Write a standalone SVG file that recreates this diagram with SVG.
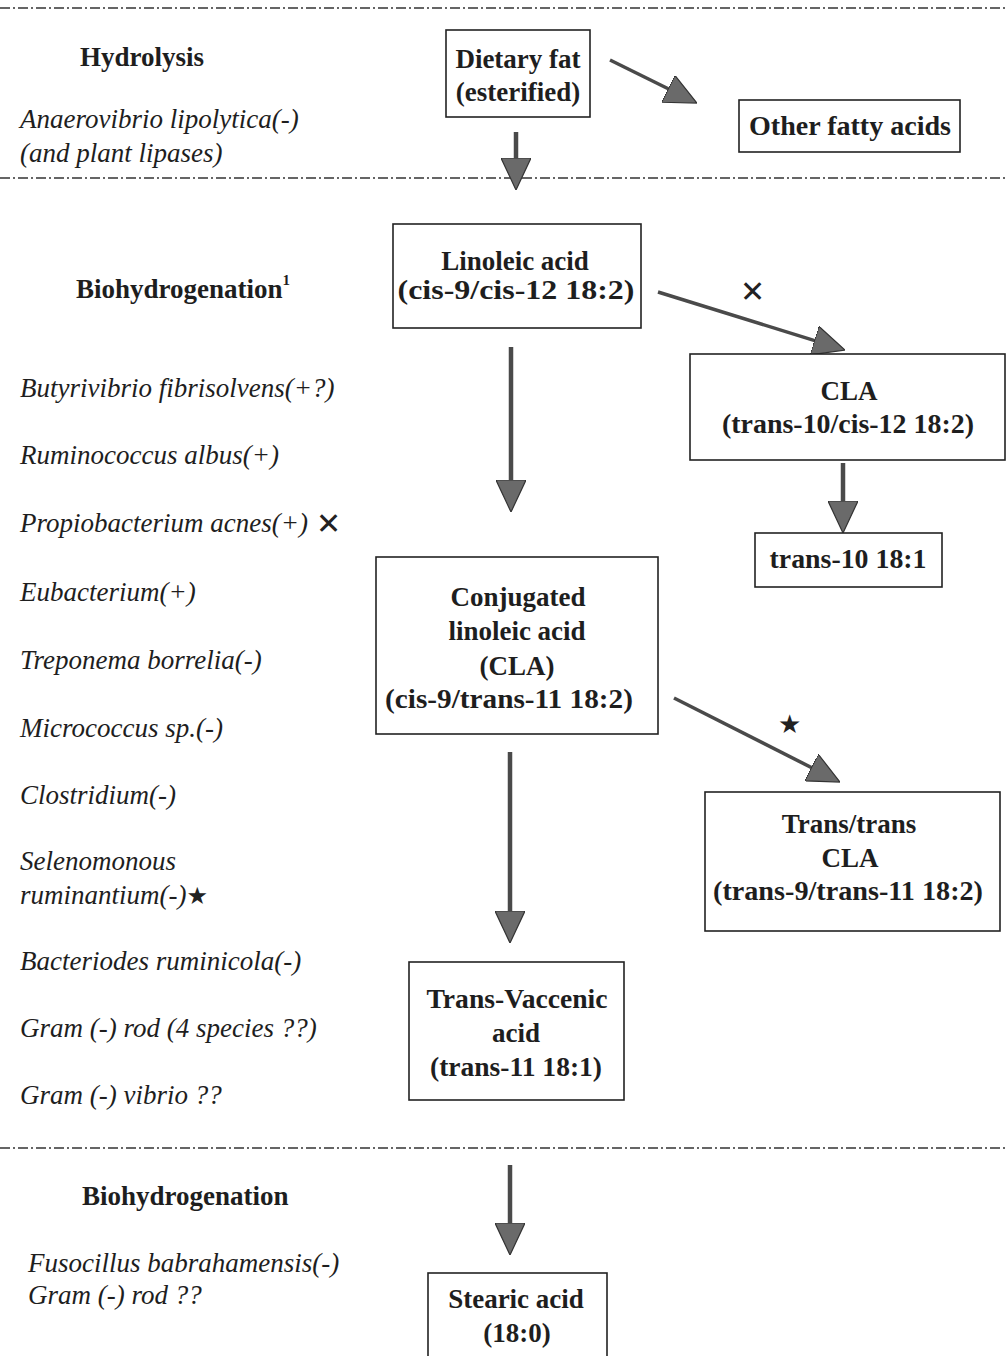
<svg xmlns="http://www.w3.org/2000/svg" width="1006" height="1356" viewBox="0 0 1006 1356">
<style>
.bg{fill:#fff}
.sep{stroke:#333;stroke-width:1.4;stroke-dasharray:10 3 2 3;fill:none}
.box{fill:#fff;stroke:#222;stroke-width:1.6}
.bt{font-family:"Liberation Serif","Times New Roman",serif;font-weight:bold;font-size:27px;fill:#1e1e1e;text-anchor:middle}
.hd{font-family:"Liberation Serif","Times New Roman",serif;font-weight:bold;font-size:27px;fill:#1e1e1e}
.it{font-family:"Liberation Serif","Times New Roman",serif;font-style:italic;font-size:27px;fill:#1e1e1e}
.sym{font-family:"DejaVu Sans",sans-serif;fill:#222}
.arr{stroke:#4a4a4a;stroke-width:4.5;fill:none;marker-end:url(#ah)}
.arrd{stroke:#4a4a4a;stroke-width:3.5;fill:none;marker-end:url(#ah)}
</style>
<defs>
<marker id="ah" viewBox="0 0 32 30" refX="18" refY="15" markerWidth="32" markerHeight="30" markerUnits="userSpaceOnUse" orient="auto">
<path d="M0,0 L32,15 L0,30 z" fill="#6a6a6a" stroke="#333" stroke-width="1.2"/>
</marker>
</defs>
<rect class="bg" x="0" y="0" width="1006" height="1356"/>
<g id="separators">
<line class="sep" x1="0" y1="8" x2="1006" y2="8"/>
<line class="sep" x1="0" y1="178" x2="1006" y2="178"/>
<line class="sep" x1="0" y1="1148" x2="1006" y2="1148"/>
</g>
<g id="labels">
<text class="hd" x="80" y="66">Hydrolysis</text>
<text class="it" x="20" y="128">Anaerovibrio lipolytica(-)</text>
<text class="it" x="20" y="162">(and plant lipases)</text>
<text class="hd" x="76" y="298">Biohydrogenation<tspan font-size="15" dy="-13">1</tspan></text>
<text class="it" x="20" y="397">Butyrivibrio fibrisolvens(+?)</text>
<text class="it" x="20" y="464">Ruminococcus albus(+)</text>
<text class="it" x="20" y="532">Propiobacterium acnes(+)</text>
<text class="sym" x="316" y="534" font-size="30">✕</text>
<text class="it" x="20" y="601">Eubacterium(+)</text>
<text class="it" x="20" y="669">Treponema borrelia(-)</text>
<text class="it" x="20" y="737">Micrococcus sp.(-)</text>
<text class="it" x="20" y="804">Clostridium(-)</text>
<text class="it" x="20" y="870">Selenomonous</text>
<text class="it" x="20" y="904">ruminantium(-)<tspan class="sym" font-size="24" font-style="normal">★</tspan></text>
<text class="it" x="20" y="970">Bacteriodes ruminicola(-)</text>
<text class="it" x="20" y="1037">Gram (-) rod (4 species ??)</text>
<text class="it" x="20" y="1104">Gram (-) vibrio ??</text>
<text class="hd" x="82" y="1205">Biohydrogenation</text>
<text class="it" x="28" y="1272">Fusocillus babrahamensis(-)</text>
<text class="it" x="28" y="1304">Gram (-) rod ??</text>
<text class="sym" x="740" y="302" font-size="30">✕</text>
<text class="sym" x="778" y="733" font-size="26">★</text>
</g>
<g id="connectors">
<line class="arrd" x1="610" y1="60" x2="684.4" y2="96.8"/>
<line class="arr" x1="516" y1="132" x2="516" y2="176"/>
<line class="arrd" x1="658" y1="292" x2="831.6" y2="345.9"/>
<line class="arr" x1="511" y1="347" x2="511" y2="498"/>
<line class="arr" x1="843" y1="463" x2="843" y2="519"/>
<line class="arrd" x1="674" y1="698" x2="827.5" y2="775.7"/>
<line class="arr" x1="510" y1="752" x2="510" y2="929"/>
<line class="arr" x1="510" y1="1165" x2="510" y2="1241"/>
</g>
<g id="n-dietary">
<rect class="box" x="446" y="30" width="144" height="87"/>
<text class="bt" x="518" y="68">Dietary fat</text>
<text class="bt" x="518" y="101">(esterified)</text>
</g>
<g id="n-other">
<rect class="box" x="739" y="100" width="221" height="52"/>
<text class="bt" x="850" y="135" textLength="202" lengthAdjust="spacingAndGlyphs">Other fatty acids</text>
</g>
<g id="n-linoleic">
<rect class="box" x="393" y="224" width="248" height="104"/>
<text class="bt" x="515" y="270">Linoleic acid</text>
<text class="bt" x="516" y="299" textLength="237" lengthAdjust="spacingAndGlyphs">(cis-9/cis-12 18:2)</text>
</g>
<g id="n-cla1012">
<rect class="box" x="690" y="354" width="315" height="106"/>
<text class="bt" x="849" y="400">CLA</text>
<text class="bt" x="848" y="433" textLength="252" lengthAdjust="spacingAndGlyphs">(trans-10/cis-12 18:2)</text>
</g>
<g id="n-trans10">
<rect class="box" x="755" y="533" width="187" height="54"/>
<text class="bt" x="848" y="568" textLength="157" lengthAdjust="spacingAndGlyphs">trans-10 18:1</text>
</g>
<g id="n-cla911">
<rect class="box" x="376" y="557" width="282" height="177"/>
<text class="bt" x="518" y="606">Conjugated</text>
<text class="bt" x="517" y="640">linoleic acid</text>
<text class="bt" x="517" y="675">(CLA)</text>
<text class="bt" x="509" y="708" textLength="248" lengthAdjust="spacingAndGlyphs">(cis-9/trans-11 18:2)</text>
</g>
<g id="n-transtrans">
<rect class="box" x="705" y="792" width="295" height="139"/>
<text class="bt" x="849" y="833">Trans/trans</text>
<text class="bt" x="850" y="867">CLA</text>
<text class="bt" x="848" y="900" textLength="270" lengthAdjust="spacingAndGlyphs">(trans-9/trans-11 18:2)</text>
</g>
<g id="n-vaccenic">
<rect class="box" x="409" y="962" width="215" height="138"/>
<text class="bt" x="517" y="1008" textLength="181" lengthAdjust="spacingAndGlyphs">Trans-Vaccenic</text>
<text class="bt" x="516" y="1042">acid</text>
<text class="bt" x="516" y="1076" textLength="172" lengthAdjust="spacingAndGlyphs">(trans-11 18:1)</text>
</g>
<g id="n-stearic">
<rect class="box" x="428" y="1273" width="179" height="90"/>
<text class="bt" x="516" y="1308">Stearic acid</text>
<text class="bt" x="517" y="1342">(18:0)</text>
</g>
</svg>
